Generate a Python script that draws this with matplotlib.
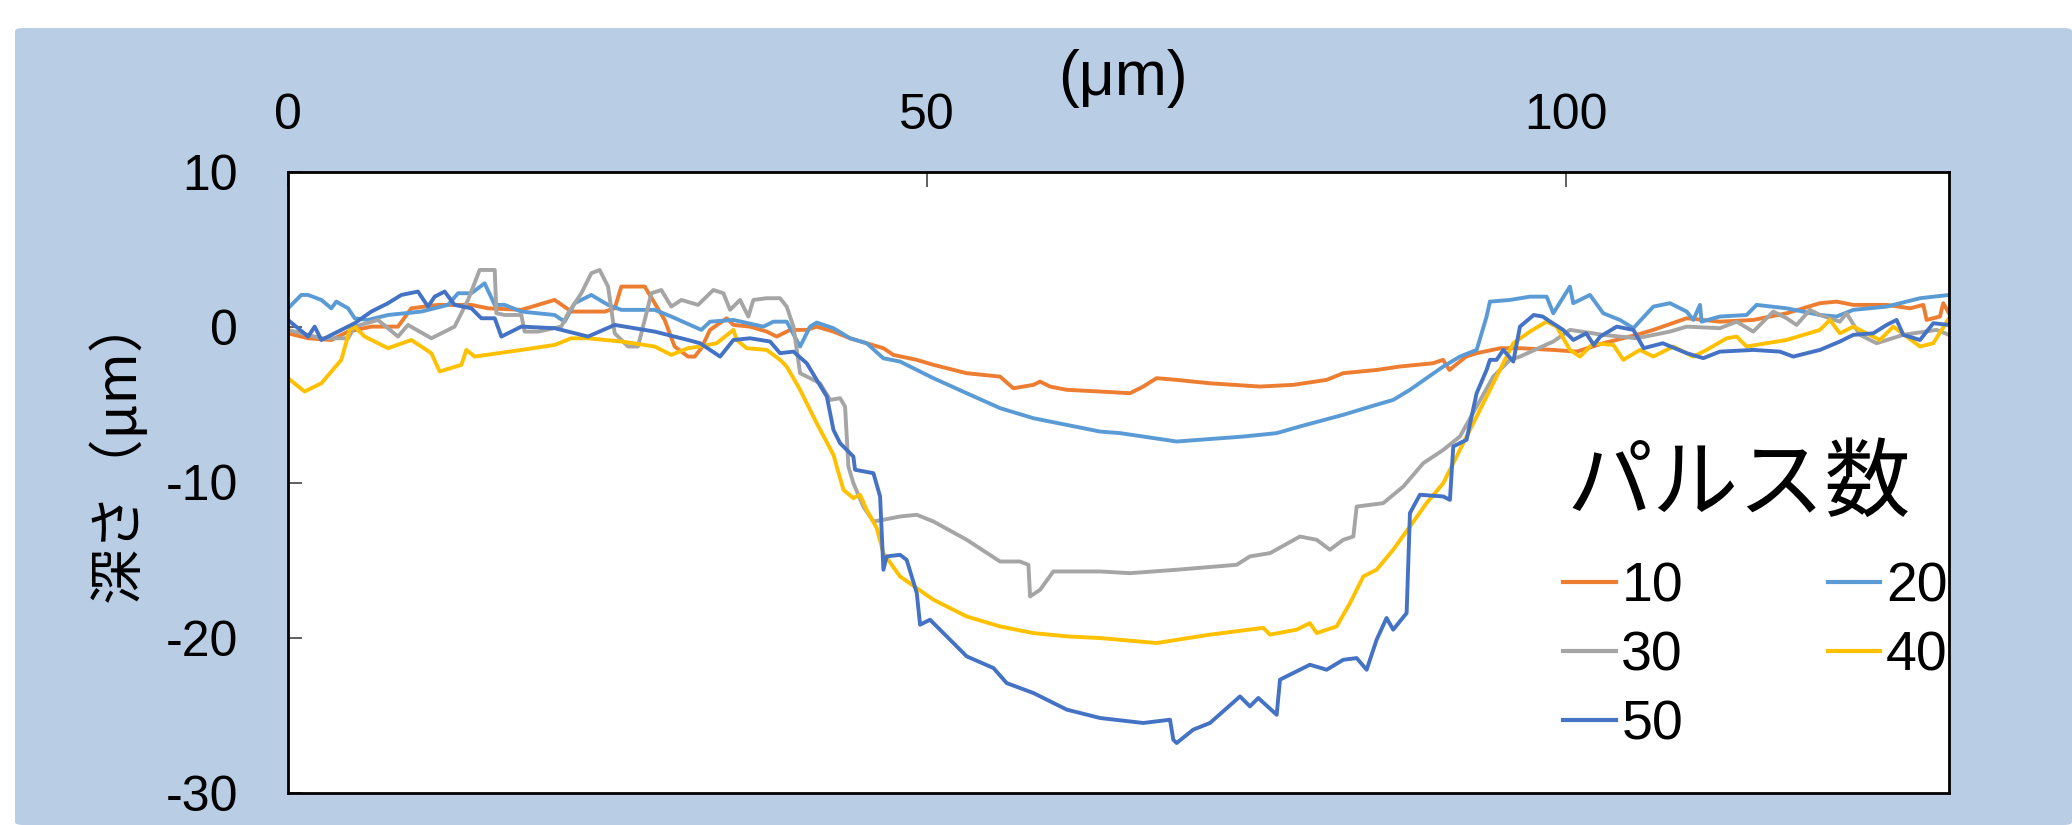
import matplotlib
matplotlib.use("Agg")
import matplotlib.pyplot as plt
from matplotlib.patches import FancyBboxPatch
from matplotlib.lines import Line2D

plt.rcParams['font.family'] = ['Liberation Sans', 'Noto Sans CJK JP', 'DejaVu Sans']
plt.rcParams['axes.unicode_minus'] = False

# Depth profiles (position in µm, depth in µm) for each pulse count
profile_10 = [(0, -0.39), (1.57, -0.71), (3.39, -0.82), (4.7, -0.28), (6.52, 0.04), (8.61, 0.04), (9.65, 1.22),
              (11.74, 1.44), (14.35, 1.44), (15.65, 1.22), (18.26, 1.12), (20.87, 1.76), (22.18, 1.01), (24.79, 1.01),
              (25.57, 1.22), (26.09, 2.62), (27.92, 2.62), (28.7, 1.55), (29.48, 0.47), (30.26, -1.24), (31.31, -1.89),
              (31.83, -1.89), (32.35, -1.35), (33.03, -0.17), (34.34, 0.58), (34.86, 0.15), (36.16, 0.04),
              (37.47, -0.28), (38.25, -0.60), (39.3, -0.17), (40.6, -0.17), (41.38, 0.04), (42.69, -0.28),
              (43.99, -0.71), (45.29, -1.03), (46.6, -1.35), (47.38, -1.78), (49.21, -2.10), (50.51, -2.42),
              (53.12, -2.96), (55.73, -3.18), (56.77, -3.93), (58.34, -3.71), (58.86, -3.50), (59.64, -3.82),
              (60.95, -4.03), (63.56, -4.14), (65.9, -4.25), (66.94, -3.82), (67.98, -3.28), (69.55, -3.39),
              (72.16, -3.61), (76.07, -3.82), (78.68, -3.71), (81.29, -3.39), (82.59, -2.96), (85.2, -2.75),
              (87.03, -2.53), (89.6, -2.32), (90.4, -2.10), (90.9, -2.75), (92.2, -1.89), (93.03, -1.67),
              (94.9, -1.35), (96.42, -1.35), (99.03, -1.46), (100.86, -1.57), (102.94, -1.03), (105.55, -0.49),
              (106.86, -0.17), (109.47, 0.58), (112.07, 0.36), (114.68, 0.47), (117.29, 0.90), (119.9, 1.55),
              (121.2, 1.65), (122.51, 1.44), (125.12, 1.44), (126.95, 1.22), (127.99, 1.44), (128.25, 0.47),
              (129.29, 0.69), (129.55, 1.55), (130, 0.9)]

profile_20 = [(0, 1.22), (1.04, 2.08), (1.57, 2.08), (2.61, 1.76), (3.39, 1.22), (3.78, 1.65), (4.7, 1.22),
              (5.22, 0.58), (6.26, 0.47), (7.83, 0.79), (10.44, 1.01), (12.52, 1.44), (13.31, 2.19), (14.35, 2.19),
              (15.39, 2.83), (16.18, 1.44), (16.96, 1.44), (18.26, 1.01), (20.87, 0.79), (21.65, 0.36), (22.44, 1.55),
              (23.74, 2.08), (25.05, 1.44), (26.09, 1.12), (28.7, 1.12), (30.0, 0.69), (32.35, -0.17), (33.03, 0.36),
              (34.86, 0.47), (37.21, 0.04), (37.99, 0.36), (39.03, 0.36), (40.08, -1.24), (40.86, 0.04),
              (41.38, 0.30), (42.69, -0.06), (43.99, -0.71), (45.29, -1.03), (46.6, -2.0), (47.9, -2.21),
              (50.51, -3.28), (53.12, -4.25), (55.73, -5.21), (58.34, -5.86), (60.95, -6.29), (63.56, -6.72),
              (65.12, -6.82), (66.94, -7.04), (69.55, -7.36), (74.77, -7.04), (77.38, -6.82), (79.2, -6.39),
              (82.59, -5.64), (85.2, -4.99), (86.5, -4.68), (87.81, -4.03), (89.11, -3.28), (90.42, -2.53),
              (91.72, -1.89), (93.03, -1.46), (93.81, 0.69), (94.07, 1.65), (95.64, 1.76), (97.2, 1.97),
              (98.51, 1.97), (99.03, 0.90), (100.33, 2.62), (100.59, 1.55), (101.9, 2.08), (102.94, 0.90),
              (104.25, 0.47), (105.29, -0.06), (106.86, 1.33), (108.16, 1.55), (109.47, 1.01), (109.99, 0.47),
              (110.51, 1.44), (110.64, 0.36), (112.07, 0.69), (114.16, 0.79), (114.94, 1.44), (117.29, 1.22),
              (119.9, 0.79), (121.2, 0.69), (122.51, 1.12), (125.12, 1.33), (127.73, 1.87), (130, 2.08)]

profile_30 = [(0, -0.17), (2.61, -0.71), (4.7, -0.71), (5.22, 0.04), (7.04, 0.47), (8.61, -0.60), (9.39, 0.15),
              (11.22, -0.71), (13.04, 0.04), (14.09, 1.76), (15.0, 3.69), (16.18, 3.69), (16.31, 0.90), (16.96, 0.79),
              (18.26, 0.79), (18.52, -0.28), (19.57, -0.28), (21.39, 0.04), (21.92, 0.90), (22.96, 2.19),
              (23.74, 3.48), (24.39, 3.69), (25.05, 2.62), (25.57, -0.39), (26.61, -1.24), (27.39, -1.24),
              (27.92, 0.47), (28.44, 2.19), (29.22, 2.40), (30.0, 1.33), (30.79, 1.76), (32.09, 1.44), (33.29, 2.40),
              (34.08, 2.19), (34.6, 1.12), (35.38, 1.76), (36.03, 0.69), (36.42, 1.76), (37.47, 1.87), (38.51, 1.87),
              (39.03, 1.33), (39.56, 0.04), (40.08, -2.96), (40.86, -3.28), (41.64, -3.61), (42.43, -4.68),
              (43.21, -4.57), (43.6, -5.11), (43.86, -8.97), (44.25, -10.04), (45.03, -11.55), (45.82, -12.51),
              (46.6, -12.40), (47.9, -12.19), (49.21, -12.08), (50.51, -12.51), (53.12, -13.69), (55.73, -15.09),
              (57.29, -15.09), (57.95, -15.3), (58.08, -17.34), (58.86, -16.91), (59.9, -15.73), (63.56, -15.73),
              (65.9, -15.84), (69.55, -15.62), (74.25, -15.3), (75.29, -14.76), (76.86, -14.55), (79.2, -13.48),
              (80.51, -13.69), (81.55, -14.33), (82.59, -13.69), (83.38, -13.48), (83.64, -11.55), (85.72, -11.33),
              (87.29, -10.26), (88.85, -8.76), (90.42, -7.90), (91.72, -7.04), (93.03, -5.11), (94.33, -3.18),
              (95.64, -2.10), (96.42, -1.89), (99.03, -0.92), (100.33, -0.17), (102.94, -0.49), (105.55, -0.71),
              (108.16, -0.28), (109.47, 0.04), (112.07, -0.06), (113.38, 0.36), (114.68, -0.28), (116.25, 1.01),
              (117.29, 0.58), (118.07, 0.15), (119.12, 1.12), (119.9, 0.79), (121.46, 0.36), (121.98, 0.90),
              (123.03, -0.49), (124.33, -1.03), (126.42, -0.49), (129.03, -0.17), (130, -0.49)]

profile_40 = [(0, -3.28), (1.3, -4.14), (2.61, -3.61), (4.17, -2.10), (4.83, -0.17), (5.22, 0.04), (6.0, -0.60),
              (7.83, -1.35), (9.65, -0.82), (11.22, -1.67), (11.87, -2.85), (13.57, -2.42), (13.96, -1.46),
              (14.61, -1.89), (18.26, -1.46), (20.87, -1.14), (22.18, -0.71), (23.48, -0.71), (26.09, -0.92),
              (28.7, -1.24), (30.0, -1.78), (31.31, -1.35), (32.25, -1.24), (33.55, -1.03), (34.86, -0.17),
              (35.12, -0.82), (35.9, -1.35), (37.47, -1.46), (38.51, -2.10), (39.03, -2.53), (40.08, -4.03),
              (41.38, -6.18), (42.69, -8.22), (43.47, -10.47), (44.25, -11.01), (44.77, -10.79), (45.29, -11.76),
              (46.08, -12.94), (46.6, -14.55), (47.9, -16.05), (50.51, -17.55), (53.12, -18.63), (55.73, -19.27),
              (58.34, -19.70), (60.95, -19.91), (63.56, -20.02), (65.12, -20.13), (67.98, -20.34), (72.16, -19.8),
              (76.33, -19.36), (76.86, -19.8), (78.94, -19.48), (79.98, -19.06), (80.51, -19.70), (82.07, -19.27),
              (83.12, -17.77), (84.16, -16.05), (85.2, -15.62), (86.5, -14.33), (87.81, -12.83), (89.11, -11.33),
              (90.42, -10.04), (91.72, -7.90), (93.03, -5.75), (94.33, -3.61), (95.9, -1.03), (97.2, -0.28),
              (98.5, 0.36), (99.3, 0.04), (100.33, -1.46), (101.12, -1.89), (102.16, -1.03), (103.73, -1.14),
              (104.51, -2.10), (105.81, -1.46), (106.86, -1.89), (108.42, -1.24), (109.99, -1.89), (111.03, -1.46),
              (112.6, -0.71), (113.38, -0.60), (114.16, -1.24), (117.29, -0.82), (119.9, -0.17), (120.68, 0.47),
              (121.46, -0.39), (122.51, 0.04), (124.59, -0.82), (125.64, 0.04), (127.73, -1.24), (128.77, -1.03),
              (130, 0.58)]

profile_50 = [(0, 0.47), (0.78, -0.06), (1.57, -0.60), (2.09, 0.04), (2.61, -0.82), (3.91, -0.28), (5.22, 0.26),
              (6.52, 1.01), (7.83, 1.55), (8.87, 2.08), (10.17, 2.30), (10.96, 1.33), (11.48, 1.97), (12.26, 2.30),
              (13.04, 1.44), (14.35, 1.22), (15.13, 0.58), (16.18, 0.58), (16.7, -0.60), (18.26, 0.04),
              (20.87, -0.06), (23.48, -0.60), (25.57, 0.15), (28.7, -0.28), (31.31, -0.82), (32.25, -1.03),
              (33.82, -1.89), (34.86, -0.82), (36.16, -0.71), (37.73, -0.92), (38.51, -1.67), (39.56, -1.57),
              (40.6, -2.32), (41.38, -3.39), (42.17, -4.46), (42.69, -6.61), (43.21, -7.47), (44.25, -8.33),
              (44.38, -9.18), (45.82, -9.40), (46.34, -10.90), (46.6, -15.62), (46.86, -14.76), (47.9, -14.66),
              (48.42, -14.98), (49.21, -17.12), (49.47, -19.16), (50.25, -18.84), (51.82, -20.13), (53.12, -21.2),
              (55.21, -21.95), (56.25, -22.92), (58.34, -23.56), (60.95, -24.63), (63.56, -25.17), (66.94, -25.49),
              (69.03, -25.28), (69.29, -26.57), (69.55, -26.78), (70.85, -25.92), (72.16, -25.49), (74.51, -23.78),
              (75.29, -24.42), (75.94, -23.88), (77.38, -24.96), (77.64, -22.70), (78.68, -22.27), (79.98, -21.74),
              (81.29, -22.06), (82.59, -21.42), (83.64, -21.31), (84.42, -22.06), (85.2, -20.13), (85.98, -18.73),
              (86.5, -19.48), (87.55, -18.41), (87.81, -11.97), (88.59, -10.79), (90.42, -10.90), (90.94, -11.12),
              (91.2, -7.68), (92.24, -7.25), (93.03, -4.25), (93.81, -2.75), (94.07, -2.10), (94.59, -2.10),
              (95.12, -1.46), (95.9, -2.21), (96.42, 0.04), (97.5, 0.79), (98.2, 0.69), (98.8, 0.36), (99.8, -0.17),
              (100.6, -0.82), (101.6, -0.39), (102.2, -1.14), (102.7, -0.60), (104.0, 0.04), (105.3, -0.17),
              (106.1, -1.35), (107.6, -1.03), (109.47, -1.67), (110.77, -1.99), (112.07, -1.57), (114.68, -1.46),
              (116.77, -1.57), (117.81, -1.89), (119.9, -1.46), (121.46, -0.92), (122.51, -0.49), (124.07, -0.39),
              (125.12, 0.15), (125.9, 0.47), (126.42, -0.49), (127.73, -0.82), (128.77, 0.26), (130, 0.15)]

pulse_labels = ["10", "20", "30", "40", "50"]
profiles = [profile_10, profile_20, profile_30, profile_40, profile_50]
colors = ["#ED7D31", "#5B9BD5", "#A5A5A5", "#FFC000", "#4472C4"]

x_ticks = [0, 50, 100]
y_ticks = [10, 0, -10, -20, -30]

W, H = 2072, 825
fig = plt.figure(figsize=(W / 100, H / 100), dpi=100)
fig.patch.set_facecolor("white")

# light blue panel behind the chart
panel = FancyBboxPatch((15 / W, 0), 1 - 15 / W, 1 - 28 / H, boxstyle="round,pad=0,rounding_size=0.004",
                       transform=fig.transFigure, facecolor="#B9CDE5", edgecolor="none", zorder=-10)
fig.patches.append(panel)

ax = fig.add_axes([288 / W, 1 - 793 / H, (1949 - 288) / W, (793 - 172) / H])
ax.set_zorder(5)
ax.set_facecolor("white")

for label, prof, c in zip(pulse_labels, profiles, colors):
    xs, ys = zip(*prof)
    ax.plot(xs, ys, color=c, lw=2.8, label=label, solid_joinstyle="round")

ax.set_xlim(0, 130)
ax.set_ylim(-30, 10)
ax.set_xticks(x_ticks)
ax.set_yticks(y_ticks)
ax.xaxis.tick_top()
ax.tick_params(axis="x", direction="in", length=11, width=1.2, color="#444444",
               labelsize=36, pad=24)
ax.tick_params(axis="y", direction="in", length=10, width=1.2, color="#444444",
               labelsize=36, pad=36)
for s in ax.spines.values():
    s.set_linewidth(2.0)
    s.set_color("black")

fig.text(1123 / W, 1 - 79 / H, "(μm)", ha="center", va="center", fontsize=45, zorder=6)
fig.text(119 / W, 1 - 448 / H, "深さ（μm）", rotation=90, ha="center", va="center", fontsize=40,
         family=["Noto Sans CJK JP", "DejaVu Sans"], zorder=6)

# legend title and entries (row-major order: 10 20 / 30 40 / 50)
fig.text(1566 / W, 1 - 486 / H, "パルス数", ha="left", va="center", fontsize=62,
         family=["Noto Sans CJK JP"], zorder=6)
handles = [Line2D([], [], color=c, lw=3) for c in colors]
order = [0, 2, 4, 1, 3]
leg = ax.legend([handles[i] for i in order], [pulse_labels[i] for i in order],
                ncol=2, loc="upper left", bbox_to_anchor=(1563 / W, 1 - 561 / H),
                bbox_transform=fig.transFigure,
                frameon=False, fontsize=40,
                handlelength=0.95, handletextpad=0.1,
                columnspacing=2.6, labelspacing=0.31, borderpad=0, borderaxespad=0)

fig.savefig("out.png", dpi=100)
